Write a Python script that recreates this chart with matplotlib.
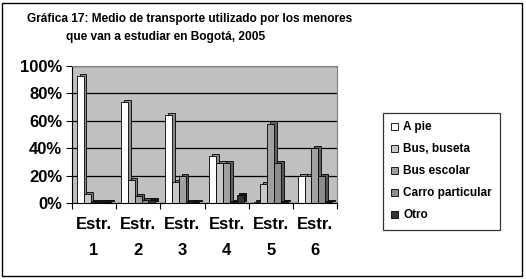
import numpy as np
import matplotlib
matplotlib.use('Agg')
import matplotlib.pyplot as plt
import matplotlib.patches as mpatches
import matplotlib.ticker as ticker

plt.rcParams['font.family'] = ['Liberation Sans', 'DejaVu Sans']
plt.rcParams['font.weight'] = 'bold'

# ── data (share of children, %) ──────────────────────────────────────────────
categories = ['Estr.\n1', 'Estr.\n2', 'Estr.\n3', 'Estr.\n4', 'Estr.\n5', 'Estr.\n6']
series = ['A pie', 'Bus, buseta', 'Bus escolar', 'Carro particular', 'Otro']
a_pie        = [93, 74, 64, 34, 0.5, 20]
bus_buseta   = [6.5, 17, 15, 29, 14, 20]
bus_escolar  = [0.5, 5, 20, 29, 58, 40]
carro        = [0.5, 2, 0.5, 0.5, 29, 20]
otro         = [0.5, 2, 0.5, 6, 0.5, 0.5]
values = [a_pie, bus_buseta, bus_escolar, carro, otro]

face  = ['#ffffff', '#c8c8c8', '#a0a0a0', '#8c8c8c', '#333333']
side  = ['#8a8a8a', '#808080', '#606060', '#555555', '#1a1a1a']

W, H = 526, 279
fig = plt.figure(figsize=(W / 100, H / 100), dpi=100)

# outer frame
fig.add_artist(mpatches.Rectangle((2 / W, 3 / H), 520 / W, 273 / H,
                                  transform=fig.transFigure, fill=False,
                                  edgecolor='black', lw=1.0))

ax = fig.add_axes([72 / W, (H - 203) / H, 265 / W, 137 / H])
ax.set_facecolor('#c0c0c0')

bw, off = 0.155, 0.11
dx, dy = 0.06, 1.5
x = np.arange(len(categories))
for k, (vals, fc, sc) in enumerate(zip(values, face, side)):
    left = x - 0.5 + off + k * bw
    # depth (3-D look)
    ax.bar(left + dx, vals, width=bw, bottom=dy, align='edge',
           color=sc, edgecolor='black', lw=0.6, zorder=2 + k * 0.1)
    ax.bar(left, vals, width=bw, align='edge', color=fc,
           edgecolor='black', lw=0.6, zorder=2.05 + k * 0.1,
           label=series[k])

ax.set_xlim(-0.5, 5.5)
ax.set_ylim(0, 100)
ax.yaxis.set_major_locator(ticker.MultipleLocator(20))
ax.yaxis.set_major_formatter(ticker.FuncFormatter(lambda v, p: f'{v:.0f}%'))
ax.yaxis.grid(True, color='black', lw=0.9, zorder=1)
ax.set_axisbelow(True)

ax.set_xticks(np.arange(-0.5, 6.0, 1.0), minor=False)
ax.set_xticklabels([])
ax.set_xticks(x, minor=True)
ax.set_xticklabels(categories, minor=True, fontsize=12, fontweight='bold',
                   linespacing=1.9)
ax.tick_params(axis='x', which='minor', length=0, pad=10)
ax.tick_params(axis='x', which='major', length=4, direction='out', width=0.8)
ax.tick_params(axis='y', labelsize=12, length=4, width=0.8, pad=3)
for lab in ax.get_yticklabels():
    lab.set_fontweight('bold')

for s in ('top', 'right'):
    ax.spines[s].set_color('#808080')
ax.spines['left'].set_color('black')
ax.spines['bottom'].set_color('black')

# legend
handles = [mpatches.Patch(facecolor=f, edgecolor='black', lw=0.6) for f in face]
leg = fig.legend(handles, series, loc='upper left',
                 bbox_to_anchor=(383 / W, 1 - 113 / H),
                 prop={'size': 8.5, 'weight': 'bold'}, frameon=True,
                 fancybox=False, edgecolor='black', handlelength=0.55,
                 handleheight=0.55, handletextpad=0.45, labelspacing=0.85,
                 borderpad=0.7, borderaxespad=0)
leg.get_frame().set_linewidth(0.9)

fig.text(190 / W, 1 - 19 / H,
         'Gráfica 17: Medio de transporte utilizado por los menores',
         ha='center', va='center', fontsize=8.6, fontweight='bold')
fig.text(166 / W, 1 - 37 / H, 'que van a estudiar en Bogotá, 2005',
         ha='center', va='center', fontsize=8.6, fontweight='bold')

fig.savefig('out.png', dpi=100)
plt.close()
